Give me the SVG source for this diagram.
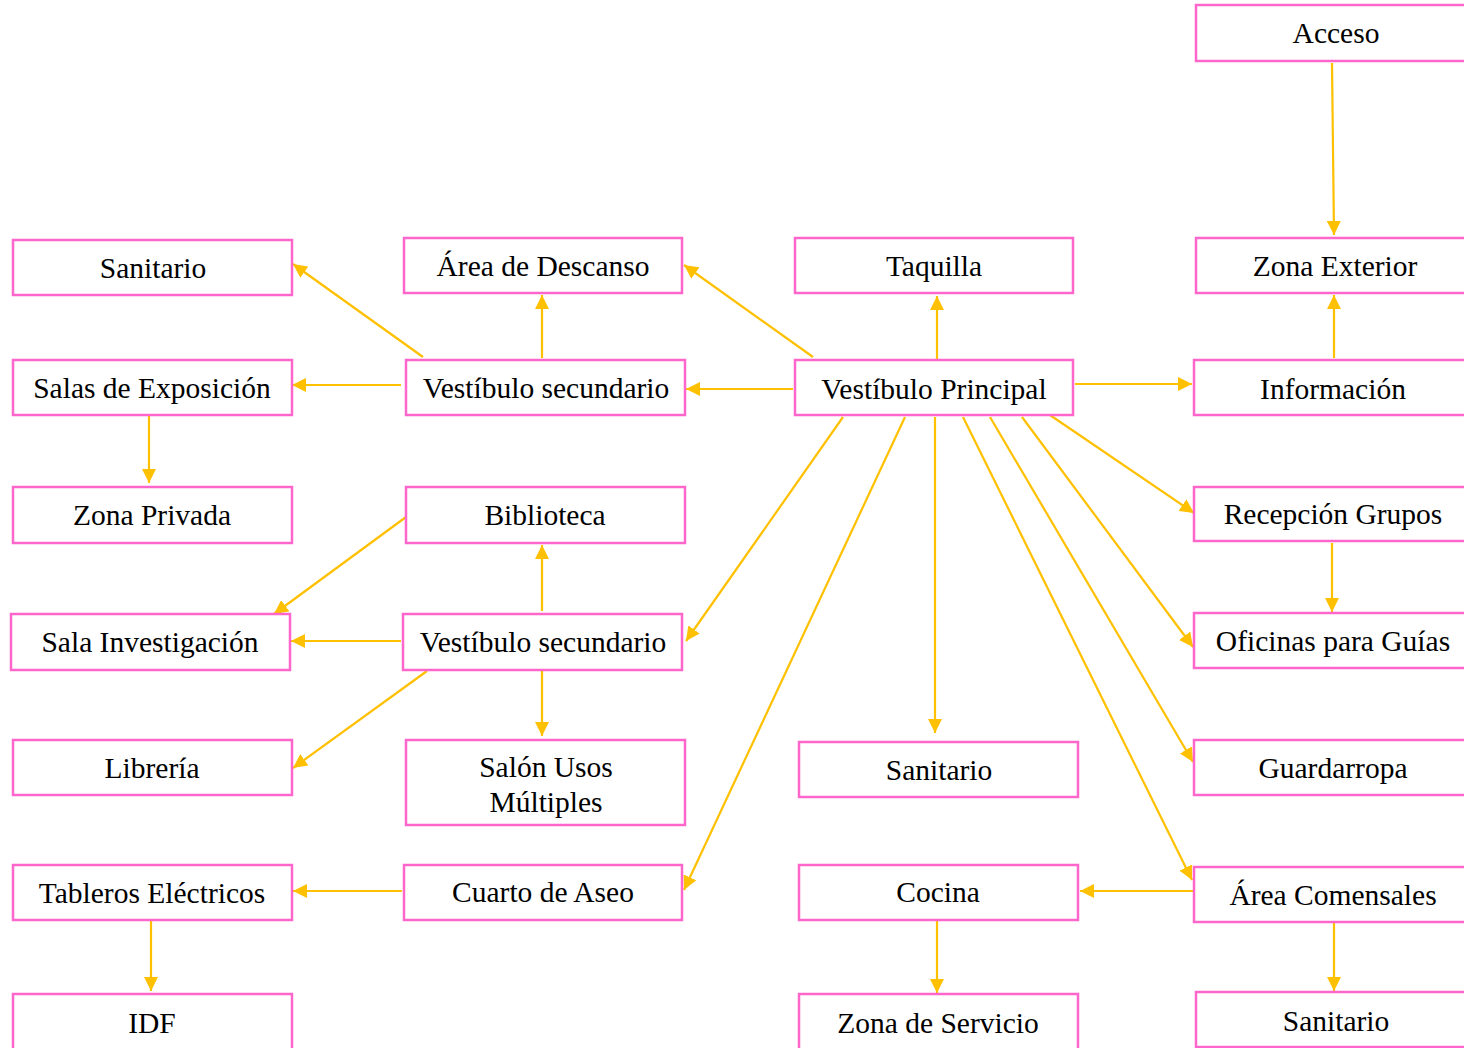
<svg xmlns="http://www.w3.org/2000/svg" width="1464" height="1048" viewBox="0 0 1464 1048">
<style>
.b{fill:#fff;stroke:#FF66CC;stroke-width:2.5}
.t{font-family:"Liberation Serif","Times New Roman",serif;font-size:29.5px;fill:#000;text-anchor:middle;dominant-baseline:central}
.c line{stroke:#FFC000;stroke-width:2.2;marker-end:url(#a)}
</style>
<defs>
<marker id="a" markerUnits="userSpaceOnUse" markerWidth="16" markerHeight="14" refX="14" refY="7" orient="auto">
<path d="M0,0 L14,7 L0,14 Z" fill="#FFC000"/>
</marker>
</defs>
<rect width="1464" height="1048" fill="#fff"/>
<g class="c" id="connectors">
<line x1="1332" y1="63" x2="1334" y2="235"/>
<line x1="1334" y1="358" x2="1334" y2="295"/>
<line x1="1075" y1="384" x2="1192" y2="384"/>
<line x1="1047" y1="413" x2="1194" y2="513"/>
<line x1="1022" y1="417" x2="1193" y2="647"/>
<line x1="990" y1="417" x2="1193" y2="762"/>
<line x1="963" y1="417" x2="1192" y2="880"/>
<line x1="935" y1="417" x2="935" y2="733"/>
<line x1="905" y1="417" x2="684" y2="890"/>
<line x1="843" y1="417" x2="686" y2="641"/>
<line x1="793" y1="389" x2="686" y2="389"/>
<line x1="813" y1="357" x2="684" y2="265"/>
<line x1="937" y1="362" x2="937" y2="296"/>
<line x1="1332" y1="543" x2="1332" y2="612"/>
<line x1="1334" y1="922" x2="1334" y2="991"/>
<line x1="1193" y1="891" x2="1080" y2="891"/>
<line x1="937" y1="920" x2="937" y2="993"/>
<line x1="542" y1="358" x2="542" y2="295"/>
<line x1="423" y1="357" x2="293" y2="264"/>
<line x1="401" y1="385" x2="292" y2="385"/>
<line x1="149" y1="415" x2="149" y2="483"/>
<line x1="406" y1="517" x2="274" y2="614"/>
<line x1="542" y1="611" x2="542" y2="545"/>
<line x1="401" y1="641" x2="291" y2="641"/>
<line x1="427" y1="671" x2="293" y2="768"/>
<line x1="542" y1="671" x2="542" y2="736"/>
<line x1="402" y1="891" x2="293" y2="891"/>
<line x1="151" y1="920" x2="151" y2="991"/>
</g>
<g id="n1"><rect class="b" x="13" y="240" width="279" height="55"/><text class="t" x="153" y="268">Sanitario</text></g>
<g id="n2"><rect class="b" x="13" y="360" width="279" height="55"/><text class="t" x="152" y="388">Salas de Exposición</text></g>
<g id="n3"><rect class="b" x="13" y="487" width="279" height="56"/><text class="t" x="152" y="515">Zona Privada</text></g>
<g id="n4"><rect class="b" x="11" y="614" width="279" height="56"/><text class="t" x="150" y="642">Sala Investigación</text></g>
<g id="n5"><rect class="b" x="13" y="740" width="279" height="55"/><text class="t" x="152" y="768">Librería</text></g>
<g id="n6"><rect class="b" x="13" y="865" width="279" height="55"/><text class="t" x="152" y="893">Tableros Eléctricos</text></g>
<g id="n7"><rect class="b" x="13" y="994" width="279" height="60"/><text class="t" x="152" y="1023">IDF</text></g>
<g id="n8"><rect class="b" x="404" y="238" width="278" height="55"/><text class="t" x="543" y="266">Área de Descanso</text></g>
<g id="n9"><rect class="b" x="406" y="360" width="279" height="55"/><text class="t" x="546" y="388">Vestíbulo secundario</text></g>
<g id="n10"><rect class="b" x="406" y="487" width="279" height="56"/><text class="t" x="545" y="515">Biblioteca</text></g>
<g id="n11"><rect class="b" x="403" y="614" width="279" height="56"/><text class="t" x="543" y="642">Vestíbulo secundario</text></g>
<g id="n12"><rect class="b" x="406" y="740" width="279" height="85"/><text class="t" x="546" y="767">Salón Usos</text><text class="t" x="546" y="802">Múltiples</text></g>
<g id="n13"><rect class="b" x="404" y="865" width="278" height="55"/><text class="t" x="543" y="892">Cuarto de Aseo</text></g>
<g id="n14"><rect class="b" x="795" y="238" width="278" height="55"/><text class="t" x="934" y="266">Taquilla</text></g>
<g id="n15"><rect class="b" x="795" y="360" width="278" height="55"/><text class="t" x="934" y="389">Vestíbulo Principal</text></g>
<g id="n16"><rect class="b" x="799" y="742" width="279" height="55"/><text class="t" x="939" y="770">Sanitario</text></g>
<g id="n17"><rect class="b" x="799" y="865" width="279" height="55"/><text class="t" x="938" y="892">Cocina</text></g>
<g id="n18"><rect class="b" x="799" y="994" width="279" height="60"/><text class="t" x="938" y="1023">Zona de Servicio</text></g>
<g id="n19"><rect class="b" x="1196" y="5" width="280" height="56"/><text class="t" x="1336" y="33">Acceso</text></g>
<g id="n20"><rect class="b" x="1196" y="238" width="280" height="55"/><text class="t" x="1335" y="266">Zona Exterior</text></g>
<g id="n21"><rect class="b" x="1194" y="360" width="282" height="55"/><text class="t" x="1333" y="389">Información</text></g>
<g id="n22"><rect class="b" x="1194" y="487" width="282" height="54"/><text class="t" x="1333" y="514">Recepción Grupos</text></g>
<g id="n23"><rect class="b" x="1194" y="613" width="282" height="55"/><text class="t" x="1333" y="641">Oficinas para Guías</text></g>
<g id="n24"><rect class="b" x="1194" y="740" width="282" height="55"/><text class="t" x="1333" y="768">Guardarropa</text></g>
<g id="n25"><rect class="b" x="1194" y="867" width="282" height="55"/><text class="t" x="1333" y="895">Área Comensales</text></g>
<g id="n26"><rect class="b" x="1196" y="992" width="280" height="55"/><text class="t" x="1336" y="1021">Sanitario</text></g>
</svg>
